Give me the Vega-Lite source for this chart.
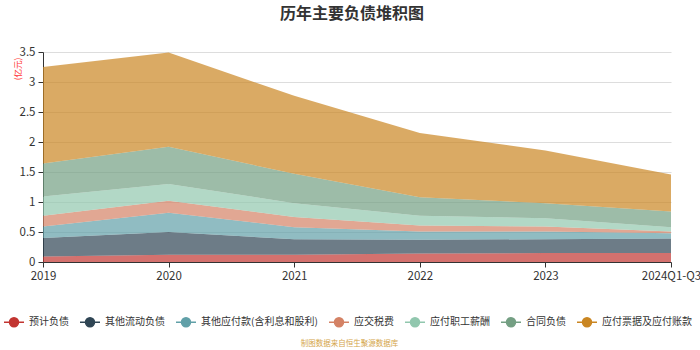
{
  "$schema": "https://vega.github.io/schema/vega-lite/v6.json",
  "autosize": {"type": "none"},
  "width": 628,
  "height": 210,
  "padding": {"left": 43, "top": 52, "right": 29, "bottom": 88},
  "background": "white",
  "title": {"text": "历年主要负债堆积图", "fontSize": 16, "fontWeight": "bold", "color": "#333333", "font": "Noto Sans CJK SC", "anchor": "middle", "offset": 24, "dx": -5},
  "config": {
    "font": "Noto Sans CJK SC",
    "view": {"stroke": null},
    "axis": {"labelColor": "#333333", "labelFontSize": 11.5, "domainColor": "#333333", "tickColor": "#333333", "gridColor": "#dddddd"}
  },
  "data": {"values": [
    {"year": "2019", "series": "预计负债", "k": 1, "v": 0.09},
    {"year": "2020", "series": "预计负债", "k": 1, "v": 0.12},
    {"year": "2021", "series": "预计负债", "k": 1, "v": 0.12},
    {"year": "2022", "series": "预计负债", "k": 1, "v": 0.14},
    {"year": "2023", "series": "预计负债", "k": 1, "v": 0.15},
    {"year": "2024Q1-Q3", "series": "预计负债", "k": 1, "v": 0.15},
    {"year": "2019", "series": "其他流动负债", "k": 2, "v": 0.31},
    {"year": "2020", "series": "其他流动负债", "k": 2, "v": 0.38},
    {"year": "2021", "series": "其他流动负债", "k": 2, "v": 0.26},
    {"year": "2022", "series": "其他流动负债", "k": 2, "v": 0.23},
    {"year": "2023", "series": "其他流动负债", "k": 2, "v": 0.23},
    {"year": "2024Q1-Q3", "series": "其他流动负债", "k": 2, "v": 0.24},
    {"year": "2019", "series": "其他应付款(含利息和股利)", "k": 3, "v": 0.19},
    {"year": "2020", "series": "其他应付款(含利息和股利)", "k": 3, "v": 0.32},
    {"year": "2021", "series": "其他应付款(含利息和股利)", "k": 3, "v": 0.20},
    {"year": "2022", "series": "其他应付款(含利息和股利)", "k": 3, "v": 0.14},
    {"year": "2023", "series": "其他应付款(含利息和股利)", "k": 3, "v": 0.13},
    {"year": "2024Q1-Q3", "series": "其他应付款(含利息和股利)", "k": 3, "v": 0.09},
    {"year": "2019", "series": "应交税费", "k": 4, "v": 0.18},
    {"year": "2020", "series": "应交税费", "k": 4, "v": 0.20},
    {"year": "2021", "series": "应交税费", "k": 4, "v": 0.17},
    {"year": "2022", "series": "应交税费", "k": 4, "v": 0.10},
    {"year": "2023", "series": "应交税费", "k": 4, "v": 0.08},
    {"year": "2024Q1-Q3", "series": "应交税费", "k": 4, "v": 0.03},
    {"year": "2019", "series": "应付职工薪酬", "k": 5, "v": 0.32},
    {"year": "2020", "series": "应付职工薪酬", "k": 5, "v": 0.28},
    {"year": "2021", "series": "应付职工薪酬", "k": 5, "v": 0.23},
    {"year": "2022", "series": "应付职工薪酬", "k": 5, "v": 0.16},
    {"year": "2023", "series": "应付职工薪酬", "k": 5, "v": 0.14},
    {"year": "2024Q1-Q3", "series": "应付职工薪酬", "k": 5, "v": 0.07},
    {"year": "2019", "series": "合同负债", "k": 6, "v": 0.55},
    {"year": "2020", "series": "合同负债", "k": 6, "v": 0.62},
    {"year": "2021", "series": "合同负债", "k": 6, "v": 0.49},
    {"year": "2022", "series": "合同负债", "k": 6, "v": 0.31},
    {"year": "2023", "series": "合同负债", "k": 6, "v": 0.25},
    {"year": "2024Q1-Q3", "series": "合同负债", "k": 6, "v": 0.26},
    {"year": "2019", "series": "应付票据及应付账款", "k": 7, "v": 1.61},
    {"year": "2020", "series": "应付票据及应付账款", "k": 7, "v": 1.57},
    {"year": "2021", "series": "应付票据及应付账款", "k": 7, "v": 1.30},
    {"year": "2022", "series": "应付票据及应付账款", "k": 7, "v": 1.07},
    {"year": "2023", "series": "应付票据及应付账款", "k": 7, "v": 0.88},
    {"year": "2024Q1-Q3", "series": "应付票据及应付账款", "k": 7, "v": 0.62}
  ]},
  "mark": {"type": "area", "opacity": 0.7, "interpolate": "linear"},
  "encoding": {
    "x": {
      "field": "year", "type": "ordinal", "sort": null,
      "scale": {"type": "point", "padding": 0},
      "axis": {"labelAngle": 0, "tickSize": 5, "labelPadding": 3, "grid": false,
               "title": "制图数据来自恒生聚源数据库", "titleFontSize": 7.5, "titleFontWeight": "normal",
               "titleColor": "#d4a54a", "titleY": 81, "titleX": 306, "titleBaseline": "middle"}
    },
    "y": {
      "field": "v", "type": "quantitative", "stack": "zero",
      "scale": {"domain": [0, 3.5], "nice": false},
      "axis": {"values": [0, 0.5, 1, 1.5, 2, 2.5, 3, 3.5], "format": "~g", "tickSize": 5, "labelPadding": 3,
               "title": "(亿元)", "titleColor": "#ff3333", "titleFontSize": 8.5, "titleFontWeight": "normal",
               "titleAnchor": "end", "titleAngle": -90, "titleX": -26, "titleY": 5, "titleAlign": "right", "titleBaseline": "middle"}
    },
    "order": {"field": "k", "type": "quantitative"},
    "color": {
      "field": "series", "type": "nominal",
      "sort": ["预计负债", "其他流动负债", "其他应付款(含利息和股利)", "应交税费", "应付职工薪酬", "合同负债", "应付票据及应付账款"],
      "scale": {
        "domain": ["预计负债", "其他流动负债", "其他应付款(含利息和股利)", "应交税费", "应付职工薪酬", "合同负债", "应付票据及应付账款"],
        "range": ["#c23531", "#2f4554", "#61a0a8", "#d48265", "#91c7ae", "#749f83", "#ca8622"]
      },
      "legend": {
        "orient": "none", "direction": "horizontal", "columns": 7,
        "legendX": -40, "legendY": 259, "title": null,
        "symbolType": "M-1,0L-0.45,0M0.45,0L1,0M-0.45,0A0.45,0.45,0,1,1,0.45,0A0.45,0.45,0,1,1,-0.45,0Z",
        "symbolSize": 400, "symbolStrokeWidth": 1.5, "symbolOpacity": 1,
        "labelFontSize": 10, "labelColor": "#333333", "labelOffset": 4, "columnPadding": 8, "labelLimit": 300,
        "encode": {"symbols": {"update": {"stroke": {"scale": "color", "field": "value"}, "opacity": {"value": 1}}}}
      }
    }
  }
}
